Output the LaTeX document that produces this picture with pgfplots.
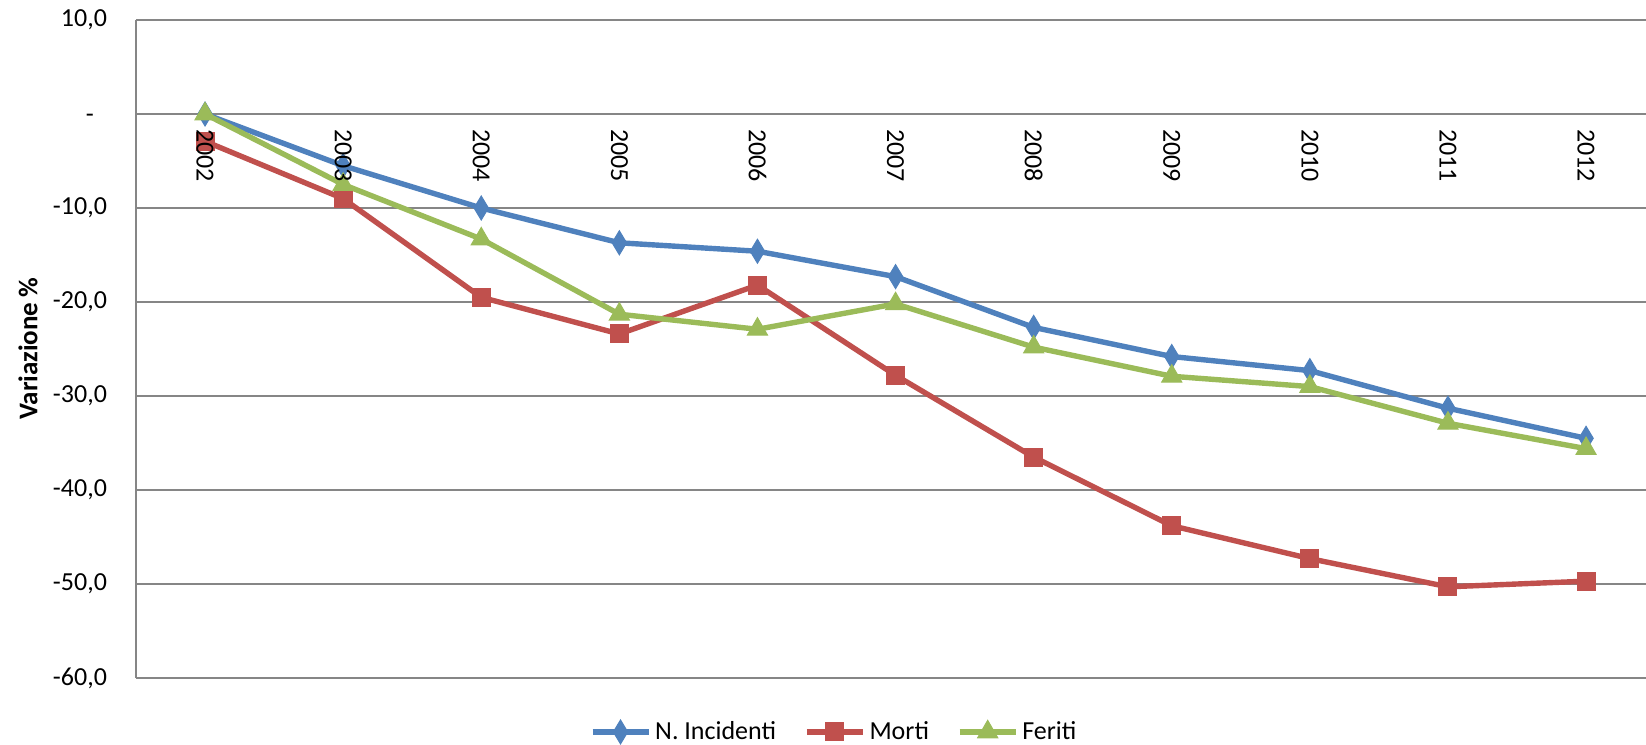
\documentclass[border=0pt]{standalone}
\usepackage{pgfplots}
\pgfplotsset{compat=1.18}
\usetikzlibrary{calc}
\usepackage{fontspec}
\setmainfont{Carlito}
\definecolor{cblue}{HTML}{4F81BD}
\definecolor{cred}{HTML}{C0504D}
\definecolor{cgreen}{HTML}{9BBB59}
\definecolor{cgrid}{HTML}{868686}
\begin{document}
\begin{tikzpicture}[font=\fontsize{13}{15.6}\selectfont]
\begin{axis}[
  scale only axis,
  width=755pt, height=329pt,
  xmin=-0.5, xmax=10.434,
  ymin=-60, ymax=10,
  axis x line=middle,
  axis y line=left,
  axis line style={-, draw=cgrid, line width=0.8pt},
  ymajorgrids,
  grid style={draw=cgrid, line width=0.8pt},
  major tick length=0pt,
  xtick={0,...,10},
  xticklabels={},
  ytick={-60,-50,-40,-30,-20,-10,0,10},
  yticklabels={{-60,0},{-50,0},{-40,0},{-30,0},{-20,0},{-10,0},{-\phantom{0}},{10,0}},
  yticklabel style={anchor=east, xshift=-11pt},
  every axis y label/.style={at={(axis description cs:-0.0715,0.5)}, rotate=90, anchor=center, font=\fontsize{13.5}{16}\selectfont\bfseries},
  ylabel={Variazione\,\%},
  legend columns=3,
  legend style={at={(axis description cs:0.463,-0.082)}, anchor=center, draw=none, fill=none,
    /tikz/every even column/.append style={column sep=12pt}},
  legend image code/.code={\draw[mark repeat=2,mark phase=2] plot coordinates {(0pt,0pt) (14pt,0pt) (28pt,0pt)};},
  clip=false,
]
\coordinate (bl) at (rel axis cs:0,0);
\addplot[color=cblue, line width=2.7pt, mark=diamond*, mark size=6pt, mark options={line width=0.5pt, xscale=0.8}] coordinates {
(0,0) (1,-5.5) (2,-10.0) (3,-13.7) (4,-14.6) (5,-17.3) (6,-22.7) (7,-25.8) (8,-27.3) (9,-31.3) (10,-34.5)};
\addlegendentry{N. Incidenti}
\addplot[color=cred, line width=2.7pt, mark=square*, mark size=4.5pt, mark options={line width=0.5pt}] coordinates {
(0,-2.9) (1,-9.0) (2,-19.5) (3,-23.4) (4,-18.2) (5,-27.8) (6,-36.5) (7,-43.8) (8,-47.3) (9,-50.3) (10,-49.7)};
\addlegendentry{Morti}
\addplot[color=cgreen, line width=2.7pt, mark=triangle*, mark size=5.8pt, mark options={line width=0.5pt}] coordinates {
(0,0) (1,-7.5) (2,-13.3) (3,-21.3) (4,-22.9) (5,-20.2) (6,-24.8) (7,-27.9) (8,-29.0) (9,-32.9) (10,-35.6)};
\addlegendentry{Feriti}
\coordinate (t0) at (axis cs:0,0);
\coordinate (t1) at (axis cs:1,0);
\end{axis}
\foreach \i in {0,...,10} {
  \node[rotate=-90, anchor=west, inner sep=0.333em, text=black] at ($(t0)!\i!(t1)+(0,-4pt)$) {\the\numexpr2002+\i\relax};
}
\pgfresetboundingbox
\path[use as bounding box] (bl) ++(-68pt,-33.5pt) rectangle ++(823pt,372.5pt);
\end{tikzpicture}
\end{document}
